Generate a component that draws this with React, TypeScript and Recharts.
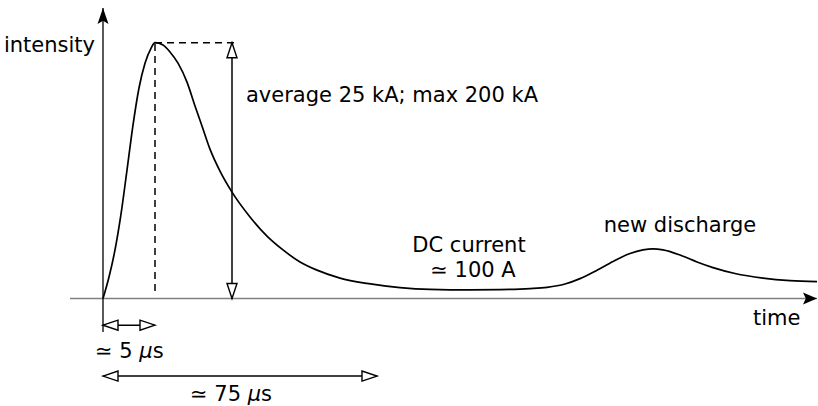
import React from 'react';
import { LineChart, Line, XAxis, YAxis, ReferenceLine, ReferenceDot } from 'recharts';

// lightning current pulse: time (arbitrary units, 0 = strike) vs intensity (% of peak)
const pulseTime = [
  0, 6, 12, 18, 24, 30, 36, 42, 48, 52,
  60, 67, 75, 84, 92, 100, 107, 117, 129, 147, 164, 180, 197, 214, 237, 264, 297, 327, 367, 397,
  427, 444, 462, 477, 494, 510, 527, 540, 550, 560, 577, 594, 610, 632, 660, 687, 714,
];
const pulseIntensity = [
  0, 8.4, 19, 33, 50.2, 67.8, 82.3, 92, 97.8, 100,
  99.1, 96.4, 92, 84.6, 75.3, 66.3, 58.4, 49.8, 41.6, 31.9, 24.4, 19, 14.3, 11.1, 8.0, 5.9, 4.3, 3.6, 3.4, 3.5,
  3.9, 4.4, 5.7, 7.8, 11.1, 14.5, 17.6, 19, 19.4, 19, 17, 14.3, 12.1, 9.8, 8.0, 7.0, 6.6,
];

const peakTime = 52;
const peakValue = 100;
const amplitudeMarkTime = 129;
const riseSpan = [0, 52];
const decaySpan = [0, 274];

const data = pulseTime.map((t, i) => ({ t, intensity: pulseIntensity[i] }));

const FONT = '"DejaVu Sans", sans-serif';

type Head = 'none' | 'open' | 'filled';

const arrow = (opts: { start?: Head; end?: Head; stroke?: string; width?: number; dash?: string; len?: number; half?: number }) =>
  (p: any) => {
    const { x1, y1, x2, y2 } = p;
    const { start = 'none', end = 'none', stroke = '#000', width = 1.5, dash, len = 15, half = 5 } = opts;
    const dx = x2 - x1;
    const dy = y2 - y1;
    const d = Math.hypot(dx, dy) || 1;
    const ux = dx / d;
    const uy = dy / d;
    const head = (tx: number, ty: number, ax: number, ay: number, kind: Head) => {
      const bx = tx - ax * len;
      const by = ty - ay * len;
      if (kind === 'filled') {
        const ix = tx - ax * len * 0.8;
        const iy = ty - ay * len * 0.8;
        const pts = `${tx},${ty} ${bx - ay * half},${by + ax * half} ${ix},${iy} ${bx + ay * half},${by - ax * half}`;
        return <polygon points={pts} fill="#000" stroke="none" />;
      }
      const pts = `${tx},${ty} ${bx - ay * half},${by + ax * half} ${bx + ay * half},${by - ax * half}`;
      return <polygon points={pts} fill="#fff" stroke="#000" strokeWidth={1.4} strokeLinejoin="miter" />;
    };
    return (
      <g>
        <line x1={x1} y1={y1} x2={x2} y2={y2} stroke={stroke} strokeWidth={width} strokeDasharray={dash} />
        {start !== 'none' && head(x1, y1, -ux, -uy, start)}
        {end !== 'none' && head(x2, y2, ux, uy, end)}
      </g>
    );
  };

const label = (parts: React.ReactNode, anchor: 'start' | 'middle' | 'end' = 'start') => (p: any) => (
  <text x={p.cx} y={p.cy} textAnchor={anchor} fontFamily={FONT} fontSize={21} fill="#000">
    {parts}
  </text>
);

const mu = <tspan fontStyle="italic">μ</tspan>;

export default function App() {
  return (
    <div style={{ position: 'absolute', left: 0, top: 0, width: 818, height: 406, background: '#fff' }}>
      <LineChart width={818} height={406} data={data} margin={{ top: 0, right: 0, bottom: 0, left: 0 }}>
        <XAxis dataKey="t" type="number" domain={[-103, 715]} allowDataOverflow hide />
        <YAxis type="number" domain={[-42, 116.7]} allowDataOverflow hide />

        {/* axes */}
        <ReferenceLine segment={[{ x: -33, y: 0 }, { x: 714, y: 0 }]} shape={arrow({ end: 'filled', stroke: '#808080', width: 1.6, len: 14, half: 6 })} />
        <ReferenceLine segment={[{ x: 0, y: -13.1 }, { x: 0, y: 113.6 }]} shape={arrow({ end: 'filled', width: 1.3, len: 16, half: 5.5 })} />

        {/* peak guides */}
        <ReferenceLine segment={[{ x: peakTime, y: 3 }, { x: peakTime, y: peakValue }]} shape={arrow({ dash: '7 5' })} />
        <ReferenceLine segment={[{ x: peakTime, y: peakValue }, { x: amplitudeMarkTime + 7, y: peakValue }]} shape={arrow({ dash: '7 5' })} />
        <ReferenceLine segment={[{ x: amplitudeMarkTime, y: 0 }, { x: amplitudeMarkTime, y: peakValue }]} shape={arrow({ start: 'open', end: 'open' })} />

        {/* duration brackets */}
        <ReferenceLine segment={[{ x: riseSpan[0], y: -10.4 }, { x: riseSpan[1], y: -10.4 }]} shape={arrow({ start: 'open', end: 'open' })} />
        <ReferenceLine segment={[{ x: decaySpan[0], y: -30.3 }, { x: decaySpan[1], y: -30.3 }]} shape={arrow({ start: 'open', end: 'open' })} />

        <Line type="monotone" dataKey="intensity" stroke="#000" strokeWidth={1.7} dot={false} activeDot={false} isAnimationActive={false} />

        {/* labels */}
        <ReferenceDot x={-8} y={96.4} r={0} shape={label('intensity', 'end')} />
        <ReferenceDot x={143} y={76.8} r={0} shape={label('average 25 kA; max 200 kA')} />
        <ReferenceDot x={366} y={18.2} r={0} shape={label('DC current', 'middle')} />
        <ReferenceDot x={370} y={8.4} r={0} shape={label('≃ 100 A', 'middle')} />
        <ReferenceDot x={577} y={26} r={0} shape={label('new discharge', 'middle')} />
        <ReferenceDot x={650} y={-10.4} r={0} shape={label('time')} />
        <ReferenceDot x={-8} y={-23.3} r={0} shape={label(<>≃ 5 {mu}s</>)} />
        <ReferenceDot x={87} y={-40.1} r={0} shape={label(<>≃ 75 {mu}s</>)} />
      </LineChart>
    </div>
  );
}
